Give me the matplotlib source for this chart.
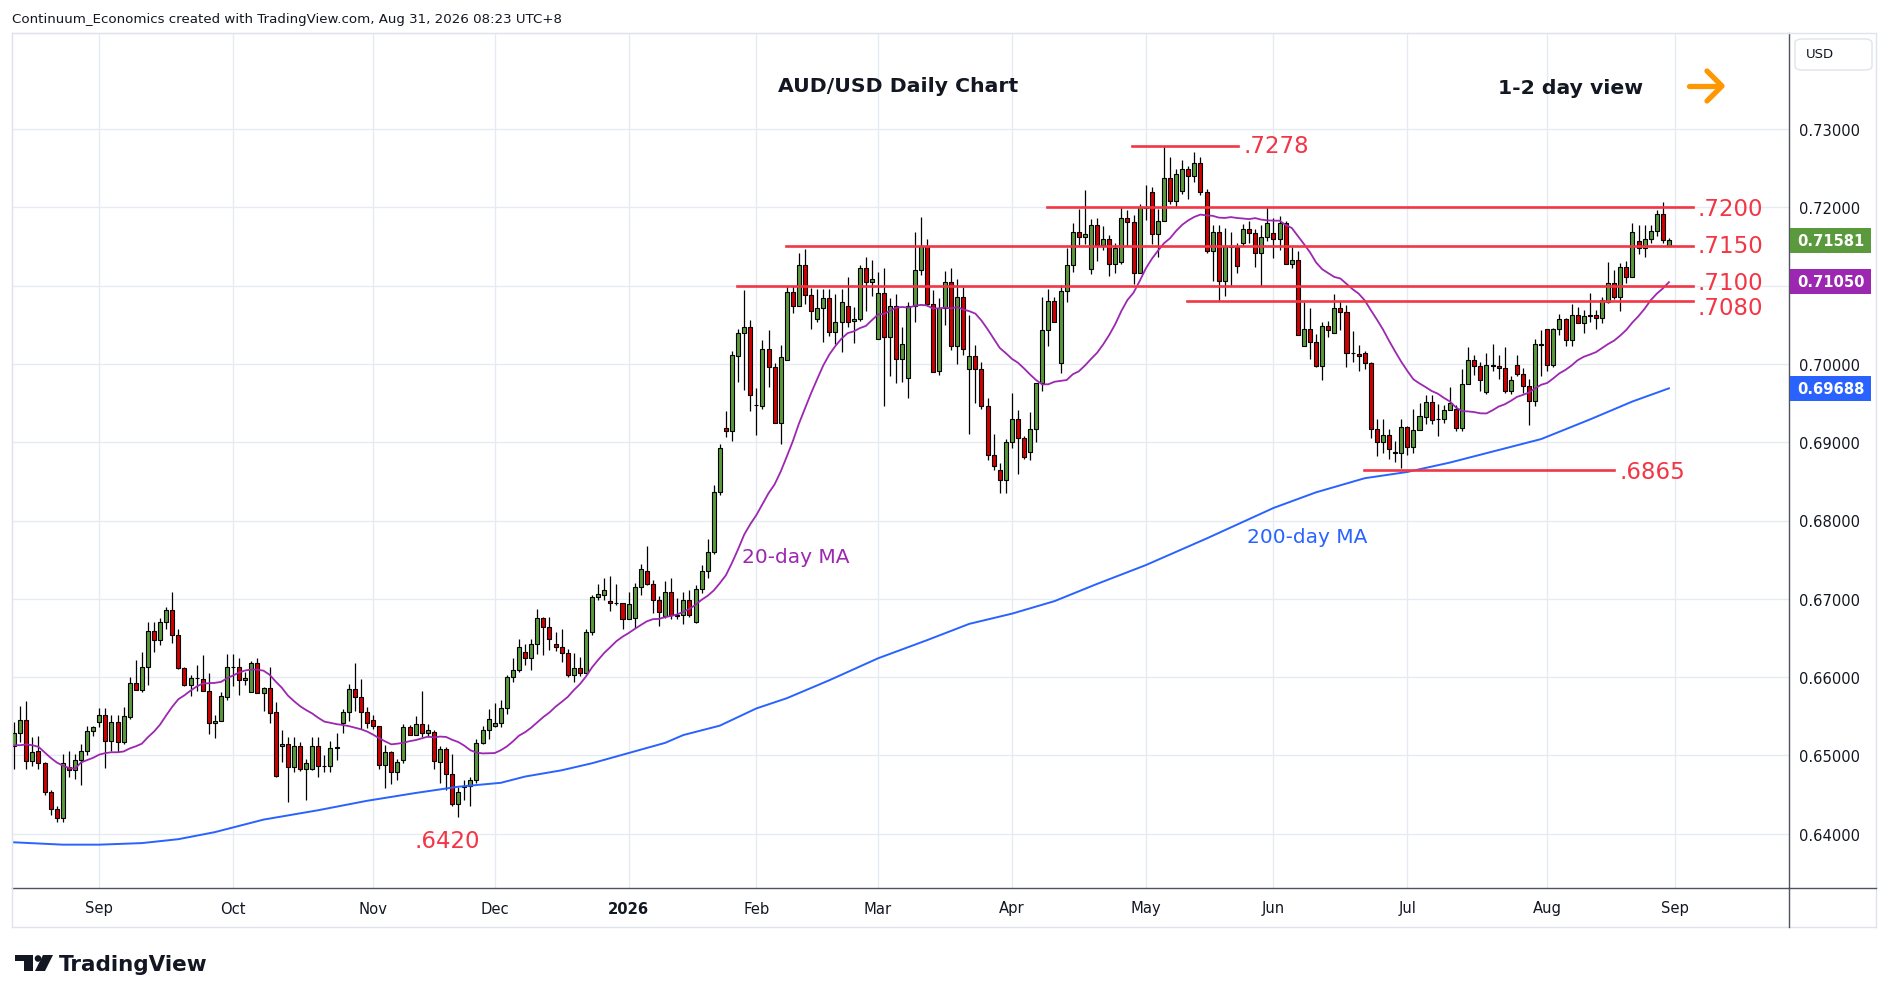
import matplotlib.pyplot as plt
import matplotlib.lines as mlines
import matplotlib.patches as mpatches
import numpy as np
import pandas as pd

# AUD/USD daily candles, 12 Aug 2025 -> 31 Aug 2026
opens = [
    0.6512, 0.6529, 0.6545, 0.6493, 0.6506, 0.6490, 0.6453, 0.6432, 0.6420, 0.6485,
    0.6481, 0.6494, 0.6506, 0.6531, 0.6543, 0.6552, 0.6519, 0.6543, 0.6517, 0.6549,
    0.6593, 0.6583, 0.6613, 0.6659, 0.6647, 0.6670, 0.6686, 0.6654, 0.6612, 0.6590,
    0.6599, 0.6597, 0.6582, 0.6541, 0.6544, 0.6575, 0.6613, 0.6613, 0.6596, 0.6581,
    0.6618, 0.6580, 0.6586, 0.6555, 0.6512, 0.6514, 0.6485, 0.6512, 0.6483, 0.6483,
    0.6512, 0.6487, 0.6486, 0.6510, 0.6542, 0.6555, 0.6585, 0.6574, 0.6555, 0.6545,
    0.6537, 0.6488, 0.6504, 0.6479, 0.6494, 0.6536, 0.6526, 0.6540, 0.6528, 0.6530,
    0.6491, 0.6508, 0.6476, 0.6438, 0.6460, 0.6461, 0.6468, 0.6516, 0.6533, 0.6537,
    0.6542, 0.6561, 0.6600, 0.6609, 0.6632, 0.6624, 0.6642, 0.6676, 0.6664, 0.6642,
    0.6639, 0.6631, 0.6603, 0.6612, 0.6605, 0.6657, 0.6702, 0.6705, 0.6697, 0.6694,
    0.6694, 0.6674, 0.6676, 0.6715, 0.6735, 0.6719, 0.6698, 0.6678, 0.6709, 0.6679,
    0.6679, 0.6698, 0.6671, 0.6713, 0.6735, 0.6760, 0.6837, 0.6918, 0.6914, 0.7010,
    0.7040, 0.7047, 0.6948, 0.6946, 0.7019, 0.6996, 0.6925, 0.7005, 0.7092, 0.7074,
    0.7126, 0.7088, 0.7057, 0.7071, 0.7084, 0.7041, 0.7054, 0.7074, 0.7055, 0.7057,
    0.7122, 0.7104, 0.7032, 0.7091, 0.7034, 0.7074, 0.7006, 0.6982, 0.7074, 0.7120,
    0.7151, 0.7076, 0.6991, 0.7071, 0.7104, 0.7023, 0.7086, 0.6994, 0.7010, 0.6994,
    0.6946, 0.6884, 0.6865, 0.6852, 0.6900, 0.6929, 0.6906, 0.6887, 0.6917, 0.6976,
    0.7043, 0.7080, 0.7001, 0.7093, 0.7126, 0.7169, 0.7162, 0.7121, 0.7177, 0.7152,
    0.7160, 0.7127, 0.7130, 0.7186, 0.7181, 0.7116, 0.7201, 0.7220, 0.7166, 0.7182,
    0.7237, 0.7208, 0.7221, 0.7249, 0.7240, 0.7257, 0.7220, 0.7144, 0.7168, 0.7106,
    0.7151, 0.7149, 0.7155, 0.7172, 0.7167, 0.7141, 0.7162, 0.7167, 0.7159, 0.7180,
    0.7127, 0.7133, 0.7023, 0.7044, 0.7028, 0.6997, 0.7048, 0.7039, 0.7071, 0.7066,
    0.7014, 0.7013, 0.7014, 0.7001, 0.6917, 0.6900, 0.6909, 0.6887, 0.6886, 0.6919,
    0.6894, 0.6916, 0.6932, 0.6951, 0.6929, 0.6930, 0.6941, 0.6943, 0.6918, 0.6974,
    0.7005, 0.6997, 0.6964, 0.6998, 0.6997, 0.6995, 0.6966, 0.6998, 0.6987, 0.6972,
    0.6952, 0.7025, 0.7044, 0.6998, 0.7045, 0.7057, 0.7030, 0.7062, 0.7052, 0.7061,
    0.7062, 0.7058, 0.7079, 0.7103, 0.7085, 0.7124, 0.7111, 0.7157, 0.7148, 0.7160,
    0.7170, 0.7192, 0.7151,
]
highs = [
    0.6543, 0.6563, 0.6570, 0.6524, 0.6525, 0.6492, 0.6456, 0.6435, 0.6502, 0.6506,
    0.6502, 0.6514, 0.6537, 0.6538, 0.6561, 0.6560, 0.6551, 0.6551, 0.6562, 0.6600,
    0.6622, 0.6632, 0.6670, 0.6670, 0.6675, 0.6689, 0.6709, 0.6661, 0.6613, 0.6603,
    0.6615, 0.6628, 0.6605, 0.6552, 0.6581, 0.6630, 0.6630, 0.6624, 0.6606, 0.6620,
    0.6624, 0.6587, 0.6613, 0.6568, 0.6532, 0.6523, 0.6524, 0.6517, 0.6495, 0.6524,
    0.6524, 0.6500, 0.6519, 0.6528, 0.6559, 0.6591, 0.6618, 0.6598, 0.6562, 0.6551,
    0.6537, 0.6513, 0.6506, 0.6496, 0.6540, 0.6539, 0.6550, 0.6582, 0.6540, 0.6532,
    0.6512, 0.6511, 0.6502, 0.6460, 0.6468, 0.6473, 0.6521, 0.6537, 0.6559, 0.6567,
    0.6571, 0.6603, 0.6624, 0.6649, 0.6642, 0.6649, 0.6687, 0.6677, 0.6677, 0.6657,
    0.6662, 0.6636, 0.6631, 0.6626, 0.6661, 0.6705, 0.6719, 0.6727, 0.6729, 0.6719,
    0.6694, 0.6709, 0.6720, 0.6744, 0.6767, 0.6724, 0.6704, 0.6723, 0.6727, 0.6701,
    0.6709, 0.6711, 0.6717, 0.6743, 0.6777, 0.6845, 0.6898, 0.6940, 0.7016, 0.7044,
    0.7094, 0.7056, 0.6969, 0.7031, 0.7043, 0.7001, 0.7024, 0.7099, 0.7099, 0.7142,
    0.7147, 0.7097, 0.7096, 0.7096, 0.7096, 0.7089, 0.7096, 0.7111, 0.7073, 0.7126,
    0.7136, 0.7133, 0.7117, 0.7122, 0.7084, 0.7089, 0.7047, 0.7079, 0.7169, 0.7187,
    0.7160, 0.7094, 0.7084, 0.7119, 0.7123, 0.7109, 0.7098, 0.7063, 0.7024, 0.7003,
    0.6957, 0.6911, 0.6874, 0.6904, 0.6963, 0.6941, 0.6908, 0.6939, 0.6976, 0.7085,
    0.7096, 0.7085, 0.7101, 0.7148, 0.7180, 0.7198, 0.7222, 0.7185, 0.7186, 0.7176,
    0.7165, 0.7155, 0.7200, 0.7196, 0.7190, 0.7204, 0.7228, 0.7226, 0.7198, 0.7278,
    0.7264, 0.7249, 0.7260, 0.7253, 0.7271, 0.7264, 0.7223, 0.7177, 0.7177, 0.7174,
    0.7168, 0.7154, 0.7179, 0.7182, 0.7172, 0.7177, 0.7200, 0.7186, 0.7189, 0.7182,
    0.7149, 0.7144, 0.7079, 0.7071, 0.7038, 0.7054, 0.7055, 0.7089, 0.7080, 0.7075,
    0.7042, 0.7024, 0.7016, 0.7003, 0.6929, 0.6929, 0.6917, 0.6902, 0.6930, 0.6921,
    0.6943, 0.6950, 0.6960, 0.6960, 0.6949, 0.6948, 0.6970, 0.6947, 0.6994, 0.7021,
    0.7012, 0.7002, 0.7014, 0.7026, 0.7012, 0.7021, 0.6984, 0.7011, 0.6995, 0.6981,
    0.7032, 0.7043, 0.7044, 0.7046, 0.7064, 0.7059, 0.7077, 0.7073, 0.7069, 0.7091,
    0.7069, 0.7086, 0.7130, 0.7120, 0.7129, 0.7132, 0.7180, 0.7177, 0.7177, 0.7178,
    0.7197, 0.7207, 0.7161,
]
lows = [
    0.6482, 0.6517, 0.6483, 0.6487, 0.6482, 0.6450, 0.6424, 0.6415, 0.6415, 0.6472,
    0.6470, 0.6462, 0.6501, 0.6525, 0.6536, 0.6484, 0.6505, 0.6504, 0.6514, 0.6546,
    0.6583, 0.6581, 0.6590, 0.6632, 0.6641, 0.6662, 0.6643, 0.6610, 0.6588, 0.6576,
    0.6582, 0.6582, 0.6527, 0.6522, 0.6544, 0.6571, 0.6589, 0.6577, 0.6590, 0.6581,
    0.6580, 0.6557, 0.6541, 0.6472, 0.6491, 0.6441, 0.6479, 0.6480, 0.6443, 0.6481,
    0.6473, 0.6479, 0.6479, 0.6494, 0.6529, 0.6544, 0.6557, 0.6534, 0.6535, 0.6534,
    0.6482, 0.6459, 0.6464, 0.6468, 0.6490, 0.6526, 0.6526, 0.6524, 0.6524, 0.6482,
    0.6465, 0.6456, 0.6436, 0.6421, 0.6443, 0.6436, 0.6465, 0.6515, 0.6521, 0.6536,
    0.6536, 0.6553, 0.6594, 0.6606, 0.6615, 0.6609, 0.6629, 0.6628, 0.6634, 0.6633,
    0.6619, 0.6600, 0.6594, 0.6601, 0.6605, 0.6654, 0.6699, 0.6699, 0.6685, 0.6692,
    0.6661, 0.6674, 0.6663, 0.6705, 0.6717, 0.6682, 0.6665, 0.6676, 0.6674, 0.6674,
    0.6668, 0.6677, 0.6669, 0.6708, 0.6727, 0.6757, 0.6833, 0.6907, 0.6901, 0.6977,
    0.6967, 0.6940, 0.6909, 0.6943, 0.6971, 0.6925, 0.6898, 0.7005, 0.7065, 0.7074,
    0.7077, 0.7044, 0.7053, 0.7028, 0.7035, 0.7025, 0.7015, 0.7047, 0.7027, 0.7055,
    0.7068, 0.7087, 0.7032, 0.6946, 0.6985, 0.6975, 0.6977, 0.6957, 0.7054, 0.7114,
    0.7074, 0.6990, 0.6986, 0.7050, 0.7018, 0.7000, 0.7011, 0.6911, 0.6950, 0.6943,
    0.6877, 0.6865, 0.6835, 0.6835, 0.6892, 0.6860, 0.6879, 0.6877, 0.6900, 0.6965,
    0.7023, 0.7053, 0.6989, 0.7079, 0.7118, 0.7152, 0.7153, 0.7115, 0.7131, 0.7146,
    0.7112, 0.7116, 0.7128, 0.7151, 0.7102, 0.7116, 0.7184, 0.7153, 0.7137, 0.7182,
    0.7204, 0.7201, 0.7217, 0.7210, 0.7232, 0.7216, 0.7141, 0.7106, 0.7080, 0.7087,
    0.7100, 0.7116, 0.7150, 0.7155, 0.7124, 0.7099, 0.7157, 0.7135, 0.7145, 0.7127,
    0.7123, 0.7037, 0.7023, 0.7006, 0.6996, 0.6980, 0.7034, 0.7039, 0.7043, 0.6996,
    0.7002, 0.6991, 0.6994, 0.6906, 0.6883, 0.6886, 0.6878, 0.6875, 0.6867, 0.6884,
    0.6886, 0.6916, 0.6923, 0.6923, 0.6908, 0.6924, 0.6941, 0.6914, 0.6914, 0.6974,
    0.6986, 0.6966, 0.6961, 0.6991, 0.6981, 0.6963, 0.6961, 0.6984, 0.6963, 0.6922,
    0.6946, 0.6984, 0.6991, 0.6996, 0.7037, 0.7023, 0.7023, 0.7052, 0.7040, 0.7053,
    0.7045, 0.7052, 0.7078, 0.7083, 0.7067, 0.7103, 0.7111, 0.7140, 0.7137, 0.7155,
    0.7163, 0.7154, 0.7150,
]
closes = [
    0.6529, 0.6545, 0.6493, 0.6504, 0.6490, 0.6453, 0.6432, 0.6420, 0.6490, 0.6481,
    0.6494, 0.6506, 0.6531, 0.6536, 0.6552, 0.6519, 0.6543, 0.6517, 0.6550, 0.6593,
    0.6583, 0.6613, 0.6659, 0.6647, 0.6670, 0.6686, 0.6654, 0.6612, 0.6590, 0.6599,
    0.6599, 0.6582, 0.6541, 0.6544, 0.6576, 0.6613, 0.6613, 0.6596, 0.6599, 0.6618,
    0.6580, 0.6586, 0.6554, 0.6474, 0.6514, 0.6485, 0.6512, 0.6483, 0.6490, 0.6512,
    0.6487, 0.6486, 0.6510, 0.6510, 0.6555, 0.6585, 0.6574, 0.6555, 0.6542, 0.6537,
    0.6488, 0.6504, 0.6479, 0.6492, 0.6536, 0.6526, 0.6540, 0.6528, 0.6533, 0.6493,
    0.6508, 0.6476, 0.6438, 0.6453, 0.6461, 0.6468, 0.6516, 0.6533, 0.6546, 0.6542,
    0.6561, 0.6600, 0.6609, 0.6639, 0.6624, 0.6642, 0.6676, 0.6664, 0.6649, 0.6639,
    0.6631, 0.6603, 0.6612, 0.6605, 0.6657, 0.6702, 0.6706, 0.6711, 0.6694, 0.6694,
    0.6674, 0.6693, 0.6715, 0.6738, 0.6719, 0.6698, 0.6683, 0.6709, 0.6679, 0.6678,
    0.6698, 0.6679, 0.6713, 0.6735, 0.6760, 0.6837, 0.6893, 0.6914, 0.7011, 0.7040,
    0.7047, 0.6960, 0.6947, 0.7019, 0.6996, 0.6925, 0.7009, 0.7092, 0.7074, 0.7126,
    0.7088, 0.7068, 0.7071, 0.7084, 0.7041, 0.7054, 0.7079, 0.7054, 0.7057, 0.7122,
    0.7104, 0.7109, 0.7091, 0.7034, 0.7074, 0.7006, 0.7026, 0.7074, 0.7120, 0.7151,
    0.7076, 0.6990, 0.7071, 0.7104, 0.7023, 0.7086, 0.7019, 0.7010, 0.6994, 0.6946,
    0.6884, 0.6869, 0.6852, 0.6900, 0.6929, 0.6906, 0.6881, 0.6917, 0.6976, 0.7043,
    0.7080, 0.7054, 0.7093, 0.7126, 0.7169, 0.7162, 0.7166, 0.7177, 0.7152, 0.7160,
    0.7127, 0.7148, 0.7186, 0.7181, 0.7116, 0.7201, 0.7199, 0.7166, 0.7182, 0.7237,
    0.7208, 0.7242, 0.7249, 0.7240, 0.7257, 0.7220, 0.7144, 0.7168, 0.7106, 0.7151,
    0.7149, 0.7125, 0.7172, 0.7167, 0.7141, 0.7162, 0.7180, 0.7160, 0.7180, 0.7127,
    0.7133, 0.7037, 0.7044, 0.7028, 0.6997, 0.7048, 0.7043, 0.7071, 0.7066, 0.7014,
    0.7014, 0.7010, 0.7001, 0.6917, 0.6900, 0.6909, 0.6891, 0.6886, 0.6919, 0.6894,
    0.6916, 0.6933, 0.6951, 0.6928, 0.6929, 0.6941, 0.6950, 0.6918, 0.6974, 0.7005,
    0.6997, 0.6979, 0.6998, 0.6997, 0.6995, 0.6966, 0.6979, 0.6987, 0.6972, 0.6952,
    0.7025, 0.7024, 0.6998, 0.7045, 0.7057, 0.7030, 0.7063, 0.7052, 0.7061, 0.7062,
    0.7058, 0.7082, 0.7103, 0.7085, 0.7124, 0.7111, 0.7169, 0.7148, 0.7160, 0.7170,
    0.7192, 0.7158, 0.71581,
]

# 20-day MA for the first bars (before 20 closes are available)
ma20_head = [0.6513, 0.6513, 0.6514, 0.6513, 0.6511, 0.6504, 0.6497, 0.6491, 0.6487, 0.6484,
             0.6483, 0.6491, 0.6494, 0.6497, 0.6501, 0.6503, 0.6504, 0.6504, 0.6505]

# 200-day MA at these bar numbers
ma200_bar = [0, 8, 14, 21, 27, 33, 41, 50, 58, 66, 73, 80, 84, 90, 95, 101, 107, 110, 116, 122,
             127, 134, 142, 150, 157, 164, 171, 178, 186, 191, 196, 207, 214, 222, 229, 236, 242,
             251, 259, 266, 272]
ma200_val = [0.6389, 0.6386, 0.6386, 0.6388, 0.6393, 0.6402, 0.6418, 0.6430, 0.6442, 0.6452,
             0.6460, 0.6465, 0.6473, 0.6481, 0.6490, 0.6503, 0.6516, 0.6526, 0.6538, 0.6560,
             0.6573, 0.6596, 0.6624, 0.6647, 0.6668, 0.6681, 0.6697, 0.6719, 0.6743, 0.6760,
             0.6777, 0.6816, 0.6836, 0.6854, 0.6862, 0.6874, 0.6886, 0.6904, 0.6929, 0.6952,
             0.69688]

# support / resistance levels drawn by the analyst
level_vals = [0.7278, 0.7200, 0.7150, 0.7100, 0.7080, 0.6865]
level_text = ['.7278', '.7200', '.7150', '.7100', '.7080', '.6865']
low_val = 0.6420
low_text = '.6420'

price_ticks = [0.64, 0.65, 0.66, 0.67, 0.68, 0.69, 0.70, 0.71, 0.72, 0.73]
ma20_label = 0.71050

# bar dates (weekdays, no bars on Christmas / New Year)
dates = pd.bdate_range('2025-08-12', '2026-08-31')
dates = dates.drop(pd.to_datetime(['2025-12-25', '2026-01-01']))

# ---------------------------------------------------------------- figure
W, H = 1889, 1003
fig = plt.figure(figsize=(W / 100, H / 100), dpi=100)
fig.patch.set_facecolor('white')

def fx(px):
    return px / W

def fy(py):
    return 1 - py / H

def bx(px):
    # pixel column -> bar number
    return (px - 14.1) / 6.084

def by(py):
    # pixel row -> price
    return 0.73 - (py - 130) / 7830

ax = fig.add_axes([fx(12), fy(889), (1789 - 12) / W, (889 - 34) / H])
ax.set_xlim(bx(12), bx(1789))
ax.set_ylim(by(889), by(34))

TXT = '#131722'
GRID = '#E6EBF1'
UP = '#5A9A3C'
DOWN = '#D00000'
LEVEL = '#F23645'

n = len(closes)
x = np.arange(n)
o = np.array(opens)
c = np.array(closes)
h = np.array(highs)
l = np.array(lows)

# candles
ax.vlines(x, l, h, color='black', lw=0.9, zorder=2)
up = c >= o
body = np.maximum(np.abs(c - o), 0.00003)
ax.bar(x[up], body[up], bottom=np.minimum(o, c)[up], width=0.66,
       color=UP, edgecolor='black', lw=0.8, zorder=3)
ax.bar(x[~up], body[~up], bottom=np.minimum(o, c)[~up], width=0.66,
       color=DOWN, edgecolor='black', lw=0.8, zorder=3)

# moving averages
ma20 = pd.Series(closes).rolling(20).mean().to_numpy()
ma20[:len(ma20_head)] = ma20_head
ax.plot(x, ma20, color='#9C27B0', lw=1.3, zorder=4)
ax.plot(ma200_bar, ma200_val, color='#2962FF', lw=1.4, zorder=4)

# level lines, with their labels (label centre rows in pixels)
starts = [1132, 1047, 786, 737, 1187, 1364]
ends = [1238, 1693, 1693, 1693, 1693, 1614]
label_rows = [145, 208, 245, 281.5, 306.5, 471]
for val, txt, s, e, row in zip(level_vals, level_text, starts, ends, label_rows):
    ax.plot([bx(s), bx(e)], [val, val], color=LEVEL, lw=1.9, zorder=5)
    ax.text(bx(e + 5), by(row + 8.4), txt, color=LEVEL, fontsize=16.5,
            va='baseline', ha='left', zorder=6)
ax.text(bx(447), by(840 + 8.4), low_text, color=LEVEL, fontsize=16.5, ha='center', va='baseline')

ax.text(bx(742), by(558), '20-day MA', color='#9C27B0', fontsize=14.5, va='center', ha='left')
ax.text(bx(1247), by(537), '200-day MA', color='#2962FF', fontsize=14.5, va='center', ha='left')

# axes / grid
month_pos, month_lab = [], []
for m in pd.date_range('2025-09-01', '2026-09-01', freq='MS'):
    month_pos.append(int(np.searchsorted(dates, m)))
    month_lab.append('2026' if (m.month == 1) else m.strftime('%b'))
ax.set_xticks(month_pos)
ax.set_xticklabels(month_lab)
for t in ax.get_xticklabels():
    if t.get_text() == '2026':
        t.set_fontweight('bold')
ax.set_yticks(price_ticks)
# the 0.71000 tick sits under the 20-day MA label box, so it is left blank
ax.set_yticklabels(['' if abs(v - ma20_label) < 0.002 else '%.5f' % v for v in price_ticks])
ax.yaxis.tick_right()
ax.tick_params(axis='both', length=0, colors=TXT, labelsize=10.6)
ax.tick_params(axis='x', pad=9)
ax.tick_params(axis='y', pad=7)
ax.grid(True, color=GRID, lw=1.0, zorder=0)
ax.set_axisbelow(True)
for side in ['top', 'left']:
    ax.spines[side].set_color('#E0E3EB')
for side in ['bottom', 'right']:
    ax.spines[side].set_color('#50535E')
    ax.spines[side].set_linewidth(1.0)

# outer frame of the chart panel
def fline(x0, y0, x1, y1, color, lw):
    fig.add_artist(mlines.Line2D([fx(x0), fx(x1)], [fy(y0), fy(y1)], color=color, lw=lw))

fline(12, 34, 1876, 34, '#E0E3EB', 1.0)
fline(12, 928, 1876, 928, '#E0E3EB', 1.0)
fline(12, 34, 12, 928, '#E0E3EB', 1.0)
fline(1876, 34, 1876, 928, '#E0E3EB', 1.0)
fline(1789, 889, 1789, 928, '#50535E', 1.0)
fline(1789, 889, 1876, 889, '#50535E', 1.0)

# price labels on the axis
boxes = [(closes[-1], UP), (ma20_label, '#9C27B0'), (ma200_val[-1], '#2962FF')]
for val, col in boxes:
    yc = 130 + (0.73 - val) * 7830
    fig.add_artist(mpatches.Rectangle((fx(1790), fy(yc + 12.5)), (1871 - 1790) / W, 25 / H,
                                      color=col, lw=0))
    fig.text(fx(1797), fy(yc), '%.5f' % val, color='white', fontsize=10.6,
             fontweight='bold', va='center', ha='left')

# currency box
fig.add_artist(mpatches.FancyBboxPatch((fx(1795), fy(71)), 77 / W, 31 / H,
                                       boxstyle='round,pad=0,rounding_size=0.004',
                                       facecolor='white', edgecolor='#E0E3EB', lw=1.0))
fig.text(fx(1806), fy(55), 'USD', color=TXT, fontsize=9.5, va='center', ha='left')

# titles
fig.text(fx(898), fy(87), 'AUD/USD Daily Chart', color=TXT, fontsize=14.7,
         fontweight='bold', ha='center', va='center')
fig.text(fx(1571), fy(88), '1-2 day view', color=TXT, fontsize=14.7,
         fontweight='bold', ha='center', va='center')
arrow_kw = dict(color='#FF9800', lw=3.8, solid_capstyle='round', solid_joinstyle='round')
fig.add_artist(mlines.Line2D([fx(1689), fx(1720)], [fy(87), fy(87)], **arrow_kw))
fig.add_artist(mlines.Line2D([fx(1707), fx(1722), fx(1707)], [fy(72), fy(87), fy(102)], **arrow_kw))

# header and logo
fig.text(fx(12), fy(19), 'Continuum_Economics created with TradingView.com, Aug 31, 2026 08:23 UTC+8',
         color=TXT, fontsize=9.6, va='center', ha='left')
fig.add_artist(mpatches.Polygon([(fx(15), fy(956)), (fx(33), fy(956)), (fx(33), fy(972)),
                                 (fx(24), fy(972)), (fx(24), fy(962)), (fx(15), fy(962))],
                                closed=True, color=TXT, lw=0))
fig.add_artist(mpatches.Ellipse((fx(38), fy(959.5)), 6.6 / W, 6.6 / H, color=TXT, lw=0))
fig.add_artist(mpatches.Polygon([(fx(43), fy(956)), (fx(53), fy(956)), (fx(45), fy(972)),
                                 (fx(35), fy(972))], closed=True, color=TXT, lw=0))
fig.text(fx(59), fy(965), 'TradingView', color=TXT, fontsize=15.5, fontweight='bold',
         va='center', ha='left')

fig.savefig('out.png', dpi=100, facecolor='white')
